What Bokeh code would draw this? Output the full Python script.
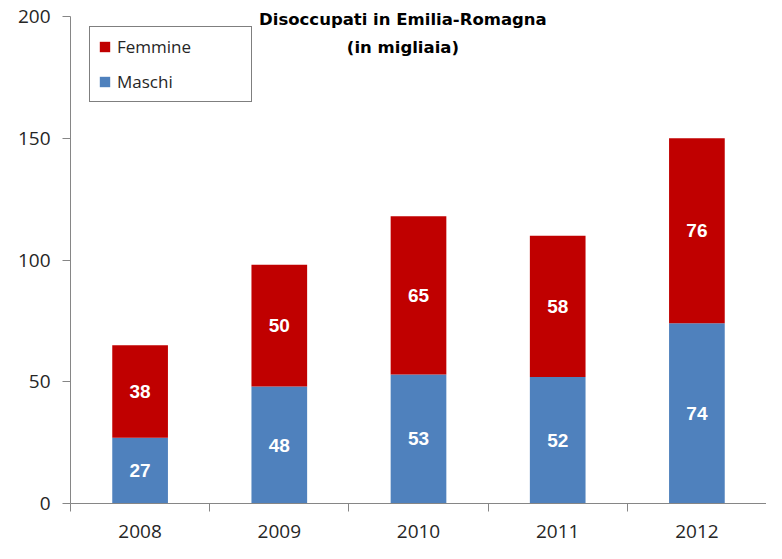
from bokeh.plotting import figure
from bokeh.models import (FixedTicker, Range1d, ColumnDataSource, LabelSet, Label,
                          Legend, LegendItem)
from bokeh.core.properties import value
from bokeh.embed import file_html
from bokeh.resources import INLINE

# ---- data ----
years = ["2008", "2009", "2010", "2011", "2012"]
maschi = [27, 48, 53, 52, 74]
femmine = [38, 50, 65, 58, 76]
y_ticks = [0, 50, 100, 150, 200]
title_lines = ["Disoccupati in Emilia-Romagna", "(in migliaia)"]
series_names = ["Maschi", "Femmine"]

BLUE = "#4F81BD"
RED = "#C00000"
AXIS = "#868686"
TXT = "#262626"

x = [i + 0.5 for i in range(len(years))]
bounds = list(range(len(years) + 1))

FRAME_H = 499
TOP_PAD = 12  # pixels of frame above the top tick
px_per_unit = (FRAME_H - TOP_PAD) / y_ticks[-1]
y_end = y_ticks[-1] + TOP_PAD / px_per_unit

p = figure(width=766, height=543,
           x_range=Range1d(0, len(years)), y_range=Range1d(0, y_end),
           output_backend="svg", toolbar_location=None,
           min_border_left=70, min_border_right=0,
           min_border_top=4, min_border_bottom=40)
p.outline_line_color = None
p.grid.visible = False
p.background_fill_color = "white"
p.border_fill_color = "white"

src = ColumnDataSource(dict(
    x=x, maschi=maschi, femmine=femmine,
    m_mid=[m / 2 for m in maschi],
    f_mid=[m + f / 2 for m, f in zip(maschi, femmine)],
    m_txt=[str(v) for v in maschi],
    f_txt=[str(v) for v in femmine],
))

rs = p.vbar_stack(["maschi", "femmine"], x="x", width=0.4, source=src,
                  color=[BLUE, RED], line_color=None)

for ycol, tcol in (("m_mid", "m_txt"), ("f_mid", "f_txt")):
    p.add_layout(LabelSet(x="x", y=ycol, text=tcol, source=src,
                          text_align="center", text_baseline="middle",
                          text_color="white", text_font=value("Liberation Sans"),
                          text_font_style="bold", text_font_size="19px"))

# title inside the plot area
title_x = 2.388
for txt, ty in zip(title_lines, (198.6, 187.3)):
    p.add_layout(Label(x=title_x, y=ty, text=txt, text_align="center",
                       text_baseline="middle", text_font="DejaVu Sans",
                       text_font_style="bold", text_font_size="16.5px",
                       text_color="black"))

legend = Legend(items=[LegendItem(label=series_names[1], renderers=[rs[1]]),
                       LegendItem(label=series_names[0], renderers=[rs[0]])],
                location=(19, 401), margin=0, padding=8, spacing=12,
                glyph_width=13, glyph_height=13, label_standoff=6,
                label_width=126,
                label_text_font="Open Sans", label_text_font_size="17px",
                label_text_color=TXT,
                border_line_color="black", border_line_width=1,
                background_fill_color="white", background_fill_alpha=1)
p.add_layout(legend)

# y axis
yax = p.yaxis[0]
yax.ticker = FixedTicker(ticks=y_ticks)
yax.bounds = (y_ticks[0], y_ticks[-1])
yax.major_tick_out = 8
yax.major_tick_in = 0
yax.minor_tick_out = 0
yax.minor_tick_in = 0
yax.axis_line_color = AXIS
yax.major_tick_line_color = AXIS
yax.major_label_standoff = 12
yax.major_label_text_font = "Open Sans"
yax.major_label_text_font_size = "19px"
yax.major_label_text_color = TXT

# x axis
xax = p.xaxis[0]
xax.ticker = FixedTicker(ticks=x, minor_ticks=bounds)
xax.major_label_overrides = {xi: yr for xi, yr in zip(x, years)}
xax.major_tick_out = 0
xax.major_tick_in = 0
xax.minor_tick_out = 8
xax.minor_tick_in = 0
xax.axis_line_color = AXIS
xax.minor_tick_line_color = AXIS
xax.major_label_standoff = 13
xax.major_label_text_font = "Open Sans"
xax.major_label_text_font_size = "19px"
xax.major_label_text_color = TXT

open("out.html", "w").write(file_html(p, INLINE))
